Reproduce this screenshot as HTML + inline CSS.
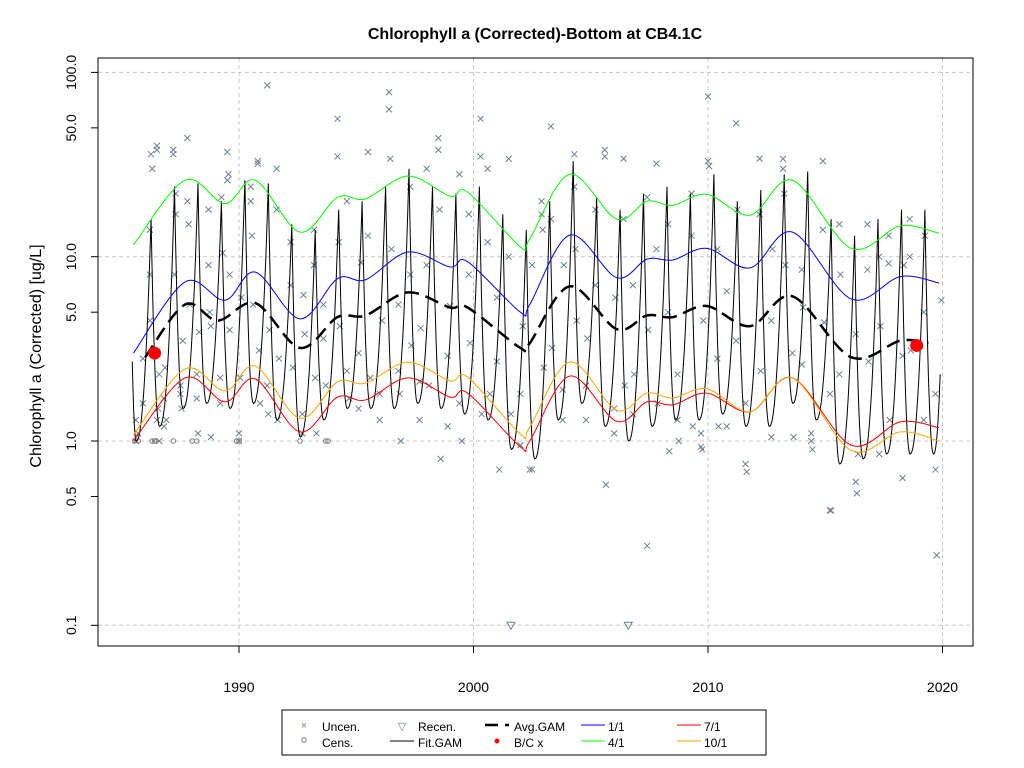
<!DOCTYPE html>
<html><head><meta charset="utf-8"><style>
html,body{margin:0;padding:0;background:#fff;}
svg{display:block;font-family:"Liberation Sans",Arial,sans-serif;}
</style></head><body>
<svg id="chart" width="1024" height="768" viewBox="0 0 1024 768">
<rect x="0" y="0" width="1024" height="768" fill="#fff"/>
<text x="535" y="39" text-anchor="middle" font-size="16" font-weight="bold">Chlorophyll a (Corrected)-Bottom at CB4.1C</text>
<text transform="translate(41,356) rotate(-90)" text-anchor="middle" font-size="16">Chlorophyll a (Corrected) [ug/L]</text>
<g id="grid"></g>
<g id="axes"></g>
<g id="marks"></g>
<rect x="98" y="58" width="875" height="588" fill="none" stroke="#000" stroke-width="1"/>
<g>
<rect x="282" y="710" width="484" height="45" fill="#fff" stroke="#000"/>
<g font-size="12" fill="#000">
<text x="304" y="729" fill="#708090" font-size="11" text-anchor="middle">×</text>
<text x="322" y="731">Uncen.</text>
<circle cx="304" cy="740" r="2.3" fill="none" stroke="#808080"/>
<text x="322" y="747">Cens.</text>
<text x="402" y="730" fill="#708090" font-size="11" text-anchor="middle">▽</text>
<text x="418" y="731">Recen.</text>
<line x1="390" y1="741" x2="414" y2="741" stroke="#000"/>
<text x="418" y="747">Fit.GAM</text>
<line x1="485" y1="725" x2="498" y2="725" stroke="#000" stroke-width="2.5"/>
<line x1="505" y1="725" x2="509" y2="725" stroke="#000" stroke-width="2.5"/>
<text x="514" y="731">Avg.GAM</text>
<circle cx="497" cy="741" r="2.5" fill="#f00"/>
<text x="514" y="747">B/C x</text>
<line x1="581" y1="725" x2="605" y2="725" stroke="#00f"/>
<text x="608" y="731">1/1</text>
<line x1="581" y1="741" x2="605" y2="741" stroke="#0f0"/>
<text x="608" y="747">4/1</text>
<line x1="677" y1="725" x2="701" y2="725" stroke="#f00"/>
<text x="704" y="731">7/1</text>
<line x1="677" y1="741" x2="701" y2="741" stroke="#ffa500"/>
<text x="704" y="747">10/1</text>
</g></g>
</svg>
<script>
const xTicks=[1990,2000,2010,2020];
const yGrid=[0.1,1,10,100];
const yTicks=[0.1,0.5,1,5,10,50,100];
const yTickLabels=["0.1","0.5","1.0","5.0","10.0","50.0","100.0"];
// seasonal curves knots
const knotYears=[1985.5,1987.7,1989.4,1990.7,1992.6,1994.2,1995.4,1997.2,1999.0,1999.75,2002.0,2002.4,2004.1,2006.1,2007.4,2008.5,2009.95,2011.8,2013.6,2016.1,2018.2,2019.85];
const aprValues=[11.6,26,19.4,26,13.6,21,20.6,27.4,21.3,22.4,11.3,12.5,28,16,20,19,21.8,16.8,26,11.1,14.7,13.4];
const janValues=[3.0,7.3,5.8,8.25,4.6,7.6,7.5,10.6,8.8,9.4,5.0,5.5,13.1,7.7,9.7,9.6,11.1,8.7,13.6,5.9,7.8,7.2];
const julValues=[1.0,2.2,1.63,2.17,1.12,1.73,1.67,2.2,1.73,1.82,0.93,1.0,2.25,1.28,1.63,1.57,1.82,1.44,2.2,0.95,1.27,1.18];
const octValues=[1.08,2.46,1.87,2.55,1.33,2.09,2.06,2.68,2.12,2.22,1.09,1.19,2.68,1.47,1.82,1.71,1.92,1.44,2.2,0.89,1.12,1.0];
const avgYears=[1986.0,1987.7,1989.1,1990.7,1992.6,1994.2,1995.4,1997.2,1999.0,1999.75,2002.0,2002.4,2004.1,2006.1,2007.4,2008.5,2009.95,2011.8,2013.6,2016.1,2018.2,2019.4];
const avgValues=[2.85,5.5,4.5,5.6,3.2,4.7,4.8,6.4,5.3,5.3,3.2,3.4,6.9,4.05,4.8,4.7,5.4,4.2,6.1,2.85,3.5,3.4];
// Fit GAM annual peaks/troughs
const fitYears=[1985,1986,1987,1988,1989,1990,1991,1992,1993,1994,1995,1996,1997,1998,1999,2000,2001,2002,2003,2004,2005,2006,2007,2008,2009,2010,2011,2012,2013,2014,2015,2016,2017,2018,2019];
const fitPeaks=[null,16,24,25,20,26,25,15,14,18,20,24,30,24,22,24,17,14,20,33,21,18,22,24,22,28,20,23,28,29,16,13,16,18,18];
const fitTroughs=[1.0,1.2,1.5,1.6,1.5,1.6,1.3,1.05,1.3,1.5,1.5,1.5,1.6,1.5,1.4,1.3,0.9,0.8,1.3,1.6,1.2,1.0,1.2,1.3,1.3,1.4,1.2,1.2,1.6,1.3,0.75,0.8,0.85,0.85,0.85];
const fitStart=[1985.45,2.7];
const fitEnd=[2019.9,2.3];
// observations
const obsDates=[1985.6,1985.6,1985.7,1985.9,1985.9,1986.2,1986.2,1986.2,1986.25,1986.3,1986.5,1986.5,1986.5,1986.55,1986.6,1986.6,1986.8,1986.8,1986.85,1986.9,1987.2,1987.2,1987.25,1987.3,1987.3,1987.5,1987.5,1987.55,1987.6,1987.8,1987.8,1987.85,1987.9,1988.2,1988.2,1988.25,1988.3,1988.7,1988.7,1988.75,1988.8,1988.8,1989.2,1989.2,1989.25,1989.3,1989.5,1989.5,1989.55,1989.6,1989.6,1990.0,1990.0,1990.05,1990.1,1990.5,1990.5,1990.55,1990.6,1990.8,1990.8,1990.85,1990.9,1991.2,1991.2,1991.25,1991.3,1991.6,1991.6,1991.65,1991.7,1992.2,1992.2,1992.3,1992.7,1992.7,1992.75,1992.8,1993.2,1993.2,1993.25,1993.3,1993.6,1993.6,1993.7,1994.2,1994.2,1994.25,1994.3,1994.6,1994.6,1994.7,1995.1,1995.1,1995.2,1995.5,1995.5,1995.6,1996.0,1996.0,1996.1,1996.4,1996.4,1996.45,1996.5,1996.8,1996.8,1996.85,1996.9,1997.3,1997.3,1997.35,1997.7,1997.7,1997.75,1998.0,1998.0,1998.1,1998.5,1998.5,1998.55,1998.6,1998.9,1998.9,1999.0,1999.4,1999.4,1999.5,1999.8,1999.8,1999.85,2000.3,2000.3,2000.35,2000.6,2000.6,2000.7,2001.0,2001.0,2001.1,2001.5,2001.5,2001.6,2002.0,2002.0,2002.1,2002.4,2002.5,2002.5,2002.9,2002.9,2002.95,2003.0,2003.3,2003.3,2003.35,2003.8,2003.8,2003.85,2004.3,2004.3,2004.35,2004.4,2004.8,2004.8,2004.85,2005.2,2005.2,2005.6,2005.6,2005.65,2006.0,2006.0,2006.05,2006.4,2006.4,2006.45,2006.8,2006.8,2006.85,2007.4,2007.4,2007.45,2007.8,2007.8,2007.85,2008.3,2008.3,2008.35,2008.7,2008.7,2008.75,2009.3,2009.3,2009.35,2009.7,2009.7,2009.75,2009.8,2010.0,2010.0,2010.05,2010.4,2010.4,2010.45,2010.8,2010.8,2011.2,2011.2,2011.25,2011.6,2011.6,2011.65,2012.2,2012.2,2012.25,2012.7,2012.7,2012.75,2013.2,2013.2,2013.25,2013.3,2013.6,2013.65,2014.0,2014.0,2014.05,2014.4,2014.4,2014.45,2014.9,2014.9,2014.95,2015.2,2015.2,2015.25,2015.6,2015.6,2015.65,2016.3,2016.3,2016.35,2016.4,2016.8,2016.8,2016.85,2017.3,2017.3,2017.35,2017.7,2017.7,2017.75,2018.3,2018.3,2018.35,2018.6,2018.6,2018.65,2019.2,2019.2,2019.25,2019.7,2019.7,2019.75,2019.95];
const obsValues=[1.0,1.3,1.1,1.6,2.8,4.5,8,14,36,30,38,40,1.3,1.5,2.3,1.0,1.2,1.7,2.5,1.3,36,38,8,17,22,2.0,1.8,1.5,3.5,44,20,15,5.5,2.3,1.7,1.1,3.9,18,9,5,4.2,1.05,2.2,1.6,21,10.5,26,37,28,8,4,1.1,1.0,2.2,6,24,20,13,5.5,33,32,3.1,1.6,85,2,1.4,4,30,18,1.3,2.8,7,12,2.5,1.1,1.4,6.2,3.8,9,14,2.2,1.1,3.6,5.5,2.0,56,35,12,4.2,20,2.4,1.7,1.5,3.0,9.3,37,13,2.2,1.8,1.3,4.5,63,78,34,11,5.5,2.4,1.8,1.0,24,8,3.3,2.1,1.3,4.1,30,9,2.0,44,38,18,0.8,1.2,2.9,5.4,28,1.6,1.0,17,8,3.4,56,35,1.4,30,12,1.8,6,2.7,0.7,34,10,1.4,0.95,1.8,4.2,0.7,0.7,9,20,17,14,2.5,51,16,3.2,1.3,1.9,9,36,24,11,4.5,2.0,1.3,3.6,7,18,38,35,0.58,1.1,1.5,6,34,16,2.0,1.4,7,2.3,0.27,21,4,32,11,1.6,15,5,0.88,2.3,1.3,1.0,22,13,1.2,0.93,1.1,0.9,4.5,74,33,31,11,2.8,1.2,6.5,1.2,3.5,53,18,1.6,0.75,0.68,34,17,2.4,1.05,4.5,11,34,30,22,9,3,1.05,2.6,8.5,5.3,1.1,1.0,0.9,33,14,4.4,1.8,0.42,0.42,2.3,15,8,3.8,0.6,0.52,0.85,15,8.5,2.7,0.85,10,4.2,13,9.2,1.3,0.63,2.9,9,16,10,3.1,1.3,5,13,0.7,1.8,0.24,5.8,5.8];
const censDates=[1985.55,1985.7,1986.3,1986.4,1986.45,1987.2,1988.0,1988.2,1989.9,1990.0,1992.6,1993.7,1993.8];
const censValues=[1,1,1,1,1,1,1,1,1,1,1,1,1];
const recenDates=[2001.6,2006.6];
const recenValues=[0.1,0.1];
const bcDates=[1986.4,2018.9];
const bcValues=[3.0,3.3];

const X0=1990,PX0=239,PXY=23.45;
const xs=t=>PX0+(t-X0)*PXY;
const ys=v=>441-184.3*Math.log10(v);
const NS='http://www.w3.org/2000/svg';
function mk(tag,attrs,parent){const e=document.createElementNS(NS,tag);for(const k in attrs)e.setAttribute(k,attrs[k]);parent.appendChild(e);return e;}
const grid=document.getElementById('grid'),axes=document.getElementById('axes'),marks=document.getElementById('marks');

xTicks.forEach(t=>{
  const g=mk('line',{x1:xs(t),x2:xs(t),y1:58,y2:646,stroke:'#c8c8c8','stroke-dasharray':'4,3'},grid);
  
  
  const tk=mk('line',{x1:xs(t),x2:xs(t),y1:646,y2:653,stroke:'#000'},axes);
  
  
  const tx=mk('text',{x:xs(t),y:692,'text-anchor':'middle','font-size':'14'},axes);
  tx.textContent=t;
  
  
});
yGrid.forEach(v=>{
  const g=mk('line',{x1:98,x2:973,y1:ys(v),y2:ys(v),stroke:'#c8c8c8','stroke-dasharray':'4,3'},grid);
  
  
});
yTicks.forEach((v,i)=>{
  const tk=mk('line',{x1:91,x2:98,y1:ys(v),y2:ys(v),stroke:'#000'},axes);
  
  
  const tx=mk('text',{transform:`translate(76,${ys(v)}) rotate(-90)`,'text-anchor':'middle','font-size':'14'},axes);
  tx.textContent=yTickLabels[i];
  
  
});

// observations
obsDates.forEach((t,i)=>{
  const x=xs(t),y=ys(obsValues[i]);
  const p=mk('path',{d:`M${x-3},${y-3}L${x+3},${y+3}M${x-3},${y+3}L${x+3},${y-3}`,stroke:'#708090','stroke-width':'1',fill:'none'},marks);
  
  
});
censDates.forEach((t,i)=>{
  const c=mk('circle',{cx:xs(t),cy:ys(censValues[i]),r:2.3,fill:'none',stroke:'#808080'},marks);
  
  
});
recenDates.forEach((t,i)=>{
  const x=xs(t),y=ys(recenValues[i]);
  const p=mk('path',{d:`M${x-4},${y-3}L${x+4},${y-3}L${x},${y+4}Z`,fill:'none',stroke:'#708090'},marks);
  
  
});

// smooth log curve via Catmull-Rom
function smoothPath(tx,vals){
  const P=tx.map((t,i)=>[xs(t),ys(vals[i])]);
  let d=`M${P[0][0]},${P[0][1]}`;
  for(let i=0;i<P.length-1;i++){
    const p0=P[Math.max(0,i-1)],p1=P[i],p2=P[i+1],p3=P[Math.min(P.length-1,i+2)];
    d+=`C${p1[0]+(p2[0]-p0[0])/6},${p1[1]+(p2[1]-p0[1])/6} ${p2[0]-(p3[0]-p1[0])/6},${p2[1]-(p3[1]-p1[1])/6} ${p2[0]},${p2[1]}`;
  }
  return d;
}
// Fit GAM
(function(){
  const pts=[[fitStart[0],fitStart[1]]];
  fitYears.forEach((y,i)=>{
    if(fitPeaks[i]!==null)pts.push([y+0.25,fitPeaks[i],'p']);
    pts.push([y+0.62,fitTroughs[i],'t']);
  });
  pts.push([fitEnd[0],fitEnd[1]]);
  let d='';
  for(let i=0;i<pts.length-1;i++){
    const a=pts[i],b=pts[i+1];
    const la=Math.log10(a[1]),lb=Math.log10(b[1]);
    const hi=Math.max(la,lb),lo=Math.min(la,lb);
    for(let k=0;k<=12;k++){
      const u=k/12;
      const t=a[0]+(b[0]-a[0])*u;
      // shape: sharp peaks, rounded troughs
      const fracHigh= la>lb ? (1-u) : u;
      const s=Math.pow(fracHigh,2.2);
      const lv=lo+(hi-lo)*s;
      const x=xs(t),y=ys(Math.pow(10,lv));
      d+=(i===0&&k===0?'M':'L')+x.toFixed(1)+','+y.toFixed(1);
    }
  }
  const p=mk('path',{d:d,fill:'none',stroke:'#000','stroke-width':'1'},marks);
  
  
})();

const seasonal=[[aprValues,'#00ff00','apr-1-line'],[janValues,'#0000ff','jan-1-line'],[julValues,'#ff0000','jul-1-line'],[octValues,'#ffa500','oct-1-line']];
seasonal.forEach(s=>{
  const p=mk('path',{d:smoothPath(knotYears,s[0]),fill:'none',stroke:s[1],'stroke-width':'1'},marks);
  
  
});
const avg=mk('path',{d:smoothPath(avgYears,avgValues),fill:'none',stroke:'#000','stroke-width':'2.5','stroke-dasharray':'14,7'},marks);



bcDates.forEach((t,i)=>{
  const c=mk('circle',{cx:xs(t),cy:ys(bcValues[i]),r:6.5,fill:'#f00'},marks);
  
  
});
</script>
</body></html>
